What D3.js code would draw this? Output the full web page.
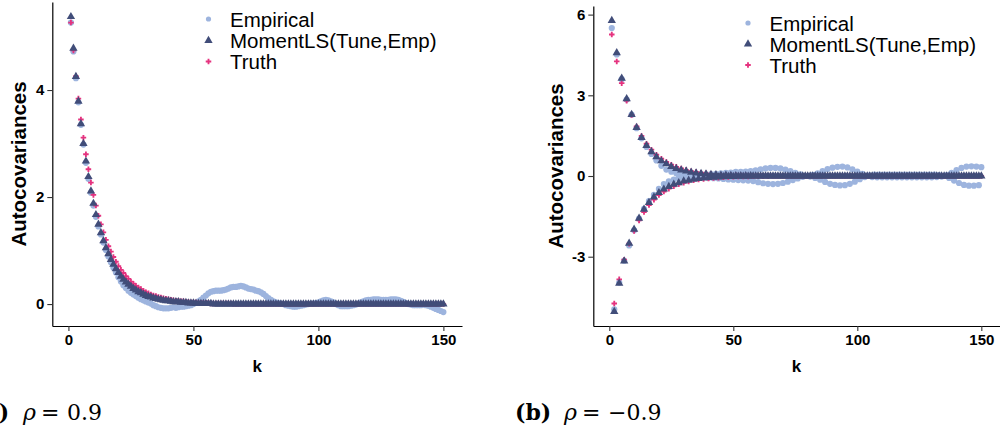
<!DOCTYPE html>
<html>
<head>
<meta charset="utf-8">
<script src="https://cdn.jsdelivr.net/npm/d3@7"></script>
<style>
  html, body { margin: 0; padding: 0; background: #fff; }
  svg { display: block; }
</style>
</head>
<body>
<svg id="chart" width="1000" height="435"></svg>
<script>
// ---------------- DATA ----------------
const lags = d3.range(1, 151); // k = 1..150

const seriesNames = ["Empirical", "MomentLS(Tune,Emp)", "Truth"];
const xTicks = [0, 50, 100, 150];
const yTicksA = [0, 2, 4];
const yTicksB = [-3, 0, 3, 6];
const captionA = ["(a)", "ρ", "=", "0.9"];
const captionB = ["(b)", "ρ", "=", "−0.9"];

// panel (a): rho = 0.9
const empiricalA = [
  5.26,4.72,4.22,3.77,3.35,2.98,2.64,2.34,2.08,1.84,
  1.63,1.45,1.30,1.15,1.01,0.89,0.78,0.68,0.59,0.50,
  0.42,0.35,0.30,0.25,0.21,0.18,0.15,0.12,0.09,0.07,
  0.05,0.03,0.01,-0.02,-0.04,-0.06,-0.07,-0.08,-0.08,-0.08,
  -0.07,-0.06,-0.07,-0.06,-0.05,-0.05,-0.04,-0.03,-0.02,0.00,
  0.02,0.05,0.08,0.12,0.16,0.20,0.23,0.24,0.25,0.25,
  0.25,0.26,0.27,0.29,0.31,0.32,0.32,0.33,0.34,0.33,
  0.31,0.29,0.28,0.27,0.25,0.24,0.22,0.19,0.15,0.11,
  0.08,0.05,0.03,0.02,0.01,0.00,-0.02,-0.03,-0.04,-0.05,
  -0.05,-0.04,-0.03,-0.02,-0.01,0.00,0.01,0.01,0.02,0.03,
  0.05,0.07,0.08,0.07,0.05,0.03,0.00,-0.02,-0.04,-0.04,
  -0.04,-0.04,-0.03,-0.02,-0.01,0.01,0.03,0.05,0.07,0.08,
  0.08,0.09,0.09,0.09,0.08,0.08,0.08,0.08,0.09,0.09,
  0.09,0.08,0.06,0.04,0.02,0.00,-0.01,-0.02,-0.02,-0.02,
  -0.02,-0.01,-0.02,-0.03,-0.05,-0.07,-0.09,-0.11,-0.13,-0.15
];
const momentA = [
  5.37,4.78,4.25,3.79,3.37,3.00,2.67,2.38,2.11,1.88,
  1.67,1.49,1.33,1.18,1.05,0.94,0.83,0.74,0.66,0.59,
  0.52,0.46,0.41,0.37,0.33,0.29,0.26,0.23,0.21,0.18,
  0.16,0.14,0.13,0.11,0.10,0.09,0.08,0.07,0.06,0.06,
  0.05,0.04,0.04,0.04,0.03,0.03,0.03,0.02,0.02,0.02,
  0.01,0.01,0.01,0.01,0.01,0.01,0.01,0,0,0,
  0,0,0,0,0,0,0,0,0,0,
  0,0,0,0,0,0,0,0,0,0,
  0,0,0,0,0,0,0,0,0,0,
  0,0,0,0,0,0,0,0,0,0,
  0,0,0,0,0,0,0,0,0,0,
  0,0,0,0,0,0,0,0,0,0,
  0,0,0,0,0,0,0,0,0,0,
  0,0,0,0,0,0,0,0,0,0,
  0,0,0,0,0,0,0,0,0,0
];
const truthA = [
  5.26,4.74,4.26,3.84,3.45,3.11,2.80,2.52,2.27,2.04,
  1.84,1.65,1.49,1.34,1.20,1.08,0.98,0.88,0.79,0.71,
  0.64,0.58,0.52,0.47,0.42,0.38,0.34,0.31,0.28,0.25,
  0.22,0.20,0.18,0.16,0.15,0.13,0.12,0.11,0.10,0.09,
  0.08,0.07,0.06,0.06,0.05,0.05,0.04,0.04,0.03,0.03,
  0.03,0.02,0.02,0.02,0.02,0.02,0.01,0.01,0.01,0.01,
  0.01,0.01,0.01,0.01,0.01,0,0,0,0,0,
  0,0,0,0,0,0,0,0,0,0,
  0,0,0,0,0,0,0,0,0,0,
  0,0,0,0,0,0,0,0,0,0,
  0,0,0,0,0,0,0,0,0,0,
  0,0,0,0,0,0,0,0,0,0,
  0,0,0,0,0,0,0,0,0,0,
  0,0,0,0,0,0,0,0,0,0,
  0,0,0,0,0,0,0,0,0,0
];

// panel (b): rho = -0.9
const empiricalB = [
  5.50,-4.96,4.52,-3.96,3.60,-3.15,2.84,-2.58,2.28,-2.02,
  1.78,-1.58,1.40,-1.22,1.08,-0.93,0.82,-0.70,0.58,-0.48,
  0.38,-0.30,0.24,-0.20,0.16,-0.13,0.10,-0.08,0.06,-0.05,
  0.04,-0.03,0.03,-0.02,0.02,-0.03,0.04,-0.05,0.06,-0.07,
  0.07,-0.08,0.08,-0.09,0.10,-0.11,0.12,-0.13,0.13,-0.14,
  0.15,-0.15,0.15,-0.16,0.16,-0.17,0.18,-0.19,0.21,-0.23,
  0.25,-0.27,0.28,-0.29,0.30,-0.30,0.30,-0.29,0.28,-0.26,
  0.24,-0.21,0.18,-0.15,0.12,-0.09,0.06,-0.03,0.01,0.00,
  -0.02,0.04,-0.07,0.10,-0.14,0.18,-0.22,0.26,-0.29,0.31,
  -0.33,0.34,-0.35,0.35,-0.34,0.32,-0.29,0.25,-0.21,0.16,
  -0.12,0.08,-0.04,0.01,0.02,-0.04,0.05,-0.05,0.05,-0.05,
  0.05,-0.05,0.05,-0.05,0.05,-0.05,0.05,-0.05,0.05,-0.05,
  0.05,-0.05,0.05,-0.05,0.05,-0.05,0.05,-0.05,0.05,-0.05,
  0.05,-0.04,0.03,-0.02,0.00,0.03,-0.07,0.12,-0.17,0.22,
  -0.26,0.30,-0.33,0.35,-0.36,0.36,-0.36,0.35,-0.34,0.33
];
const momentB = [
  5.78,-5.04,4.58,-3.99,3.63,-3.16,2.87,-2.50,2.28,-1.98,
  1.80,-1.57,1.43,-1.24,1.13,-0.99,0.90,-0.78,0.71,-0.62,
  0.56,-0.49,0.45,-0.39,0.35,-0.31,0.28,-0.25,0.22,-0.19,
  0.18,-0.16,0.14,-0.12,0.11,-0.10,0.09,-0.08,0.07,-0.06,
  0.05,-0.05,0.04,-0.04,0.03,-0.03,0.03,-0.02,0.02,-0.02,
  0.01,-0.01,0.01,-0.01,0.01,-0.01,0.01,0,0,0,
  0,0,0,0,0,0,0,0,0,0,
  0,0,0,0,0,0,0,0,0,0,
  0,0,0,0,0,0,0,0,0,0,
  0,0,0,0,0,0,0,0,0,0,
  0,0,0,0,0,0,0,0,0,0,
  0,0,0,0,0,0,0,0,0,0,
  0,0,0,0,0,0,0,0,0,0,
  0,0,0,0,0,0,0,0,0,0,
  0,0,0,0,0,0,0,0,0,0
];
const truthB = [
  5.26,-4.74,4.26,-3.84,3.45,-3.11,2.80,-2.52,2.27,-2.04,
  1.84,-1.65,1.49,-1.34,1.20,-1.08,0.98,-0.88,0.79,-0.71,
  0.64,-0.58,0.52,-0.47,0.42,-0.38,0.34,-0.31,0.28,-0.25,
  0.22,-0.20,0.18,-0.16,0.15,-0.13,0.12,-0.11,0.10,-0.09,
  0.08,-0.07,0.06,-0.06,0.05,-0.05,0.04,-0.04,0.03,-0.03,
  0.03,-0.02,0.02,-0.02,0.02,-0.02,0.01,-0.01,0.01,-0.01,
  0.01,-0.01,0.01,-0.01,0.01,0,0,0,0,0,
  0,0,0,0,0,0,0,0,0,0,
  0,0,0,0,0,0,0,0,0,0,
  0,0,0,0,0,0,0,0,0,0,
  0,0,0,0,0,0,0,0,0,0,
  0,0,0,0,0,0,0,0,0,0,
  0,0,0,0,0,0,0,0,0,0,
  0,0,0,0,0,0,0,0,0,0,
  0,0,0,0,0,0,0,0,0,0
];

// ---------------- STYLE ----------------
const colEmp = "#9db4de";
const colMom = "#414d79";
const colTruth = "#e5337f";
const sansFont = "'Liberation Sans', Arial, Helvetica, sans-serif";
const serifFont = "'DejaVu Serif', 'Liberation Serif', serif";

const svg = d3.select("#chart");

const triPath = d3.symbol().type(d3.symbolTriangle).size(30)();
const crossPath = d3.symbol().type(d3.symbolCross).size(17)();

function drawPanel(cfg) {
  const g = svg.append("g");
  const x = d3.scaleLinear().domain([-6.45, 157.45]).range([cfg.left, cfg.right]);
  const y = d3.scaleLinear().domain(cfg.yDomain).range([cfg.bottom, cfg.top]);

  // empirical
  g.append("g").selectAll("circle").data(lags).join("circle")
    .attr("cx", k => x(k)).attr("cy", (k, i) => y(cfg.emp[i]))
    .attr("r", 3.1).attr("fill", colEmp);
  // truth
  g.append("g").selectAll("path").data(lags).join("path")
    .attr("d", crossPath)
    .attr("transform", (k, i) => `translate(${x(k)},${y(cfg.truth[i])})`)
    .attr("fill", colTruth);
  // MomentLS
  g.append("g").selectAll("path").data(lags).join("path")
    .attr("d", triPath)
    .attr("transform", (k, i) => `translate(${x(k)},${y(cfg.mom[i])})`)
    .attr("fill", colMom);

  // axes
  const xAxis = g.append("g").attr("transform", `translate(0,${cfg.bottom})`)
    .call(d3.axisBottom(x).tickValues(xTicks).tickSize(5).tickSizeOuter(0).tickPadding(3)
      .tickFormat(d => String(d)));
  const yAxis = g.append("g").attr("transform", `translate(${cfg.left},0)`)
    .call(d3.axisLeft(y).tickValues(cfg.yTicks).tickSize(5).tickSizeOuter(0).tickPadding(3)
      .tickFormat(d => String(d)));
  [xAxis, yAxis].forEach(a => {
    a.select(".domain").attr("stroke", "#000").attr("stroke-width", 1.2);
    a.selectAll(".tick line").attr("stroke", "#333").attr("stroke-width", 1.1);
    a.selectAll(".tick text").attr("fill", "#000")
      .style("font-family", sansFont).style("font-size", "15px").style("font-weight", "bold");
  });

  // axis titles
  g.append("text").attr("x", (cfg.left + cfg.right) / 2).attr("y", 372)
    .attr("text-anchor", "middle")
    .style("font-family", sansFont).style("font-size", "17px").style("font-weight", "bold")
    .text("k");
  g.append("text")
    .attr("transform", `translate(${cfg.yTitleX},${(cfg.top + cfg.bottom) / 2}) rotate(-90)`)
    .attr("text-anchor", "middle")
    .style("font-family", sansFont).style("font-size", "20.5px").style("font-weight", "bold")
    .text("Autocovariances");

  // legend
  const lg = g.append("g");
  seriesNames.forEach((name, i) => {
    const ly = cfg.legendY[i];
    if (i === 0) lg.append("circle").attr("cx", cfg.legendX).attr("cy", ly).attr("r", 2.6).attr("fill", colEmp);
    if (i === 1) lg.append("path").attr("d", triPath).attr("transform", `translate(${cfg.legendX},${ly})`).attr("fill", colMom);
    if (i === 2) lg.append("path").attr("d", crossPath).attr("transform", `translate(${cfg.legendX},${ly})`).attr("fill", colTruth);
    lg.append("text").attr("x", cfg.legendX + 21.5).attr("y", ly + 7.6)
      .style("font-family", sansFont).style("font-size", "20.5px").attr("fill", "#000")
      .text(name);
  });

  // caption
  const c = cfg.caption, cx = cfg.capX, cy = 420;
  const cap = g.append("g").style("font-family", serifFont).style("font-size", "22px").attr("fill", "#000");
  cap.append("text").attr("x", cx).attr("y", cy).style("font-weight", "bold").text(c[0]);
  cap.append("text").attr("x", cx + 49).attr("y", cy).style("font-style", "italic").text(c[1]);
  cap.append("text").attr("x", cx + 67).attr("y", cy).text(c[2]);
  cap.append("text").attr("x", cx + 93).attr("y", cy).text(c[3]);
}

drawPanel({
  left: 52.3, right: 462, top: 2, bottom: 326,
  yDomain: [-0.41, 5.645], yTicks: yTicksA,
  emp: empiricalA, mom: momentA, truth: truthA,
  yTitleX: 26, legendX: 208.5, legendY: [19, 40.5, 61.5],
  caption: captionA, capX: -26
});
drawPanel({
  left: 593.3, right: 999.8, top: 6, bottom: 326,
  yDomain: [-5.576, 6.32], yTicks: yTicksB,
  emp: empiricalB, mom: momentB, truth: truthB,
  yTitleX: 562.5, legendX: 748, legendY: [23, 44, 65],
  caption: captionB, capX: 515
});
</script>
</body>
</html>
